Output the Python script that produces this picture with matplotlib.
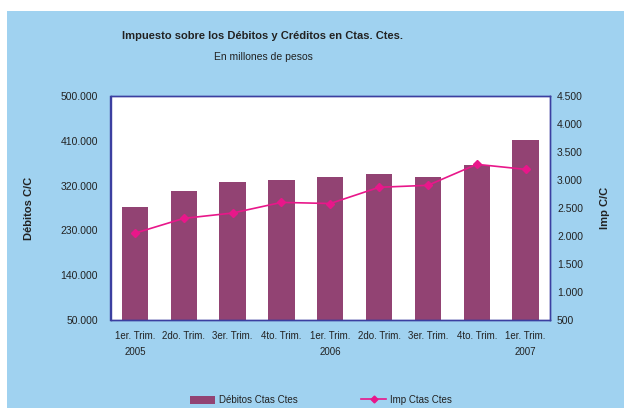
import matplotlib
matplotlib.use("Agg")
import matplotlib.pyplot as plt
from matplotlib.patches import Rectangle, Patch
from matplotlib.lines import Line2D
import matplotlib.ticker as mticker

plt.rcParams["font.family"] = ["Liberation Sans", "DejaVu Sans"]

# ── Datos ────────────────────────────────────────────────────────────────
trimestres = ["1er. Trim.\n2005", "2do. Trim.", "3er. Trim.", "4to. Trim.",
              "1er. Trim.\n2006", "2do. Trim.", "3er. Trim.", "4to. Trim.",
              "1er. Trim.\n2007"]
debitos = [277000, 309000, 327000, 331000, 337000, 343000, 337000, 361000, 412000]
impuesto = [2050, 2315, 2410, 2600, 2580, 2870, 2905, 3280, 3190]

BG = "#A0D2F0"
BAR = "#924373"
LINE = "#E8178A"
FRAME = "#3B3FA0"
TXT = "#222222"


def fmt_miles(x, pos):
    return f"{int(round(x)):,}".replace(",", ".")


fig = plt.figure(figsize=(6.24, 4.08), dpi=100)
fig.patch.set_facecolor("white")
fig.add_artist(Rectangle((7 / 624, 0), 1, 1 - 11 / 408, transform=fig.transFigure,
                         facecolor=BG, edgecolor="none", zorder=0))

ax = fig.add_axes([110.5 / 624, 1 - 320 / 408, 439.5 / 624, 224 / 408])
ax.set_facecolor("white")
x = list(range(len(trimestres)))
ax.bar(x, debitos, width=0.54, color=BAR, zorder=2)
ax.set_xlim(-0.5, len(trimestres) - 0.5)
ax.set_ylim(50000, 500000)
ax.set_yticks(range(50000, 500001, 90000))
ax.yaxis.set_major_formatter(mticker.FuncFormatter(fmt_miles))
ax.set_xticks(x)
ax.set_xticklabels(trimestres, fontsize=7, color=TXT, linespacing=1.75, va="top")
ax.tick_params(length=0, labelsize=7.5, colors=TXT)
ax.tick_params(axis="x", pad=8, labelsize=7)
ax.tick_params(axis="y", pad=9)
ax.set_ylabel("Débitos C/C", fontsize=8, fontweight="bold", color=TXT, labelpad=19)

ax2 = ax.twinx()
ax2.plot(x, impuesto, color=LINE, lw=1.2, marker="D", ms=4, zorder=3)
ax2.set_ylim(500, 4500)
ax2.set_yticks(range(500, 4501, 500))
ax2.yaxis.set_major_formatter(mticker.FuncFormatter(fmt_miles))
ax2.tick_params(length=0, labelsize=7.5, colors=TXT, pad=5)
ax2.set_ylabel("Imp C/C", fontsize=8, fontweight="bold", color=TXT, labelpad=12)

for a in (ax, ax2):
    for s in a.spines.values():
        s.set_color(FRAME)
        s.set_linewidth(1.0)

fig.text(263 / 624, 1 - 36 / 408, "Impuesto sobre los Débitos y Créditos en Ctas. Ctes.",
         ha="center", va="center", fontsize=8, fontweight="bold", color=TXT)
fig.text(263 / 624, 1 - 57 / 408, "En millones de pesos",
         ha="center", va="center", fontsize=7.5, color=TXT)

handles = [Patch(facecolor=BAR, edgecolor="none"),
           Line2D([], [], color=LINE, lw=1.2, marker="D", ms=3.5)]
fig.legend(handles, ["Débitos Ctas Ctes", "Imp Ctas Ctes"], loc="center",
           bbox_to_anchor=(321 / 624, 1 - 400 / 408), ncol=2, frameon=False,
           fontsize=7, handlelength=2.6, handleheight=0.9, columnspacing=6.5,
           handletextpad=0.4, labelcolor=TXT)

fig.savefig("out.png", dpi=100, facecolor=fig.get_facecolor())
